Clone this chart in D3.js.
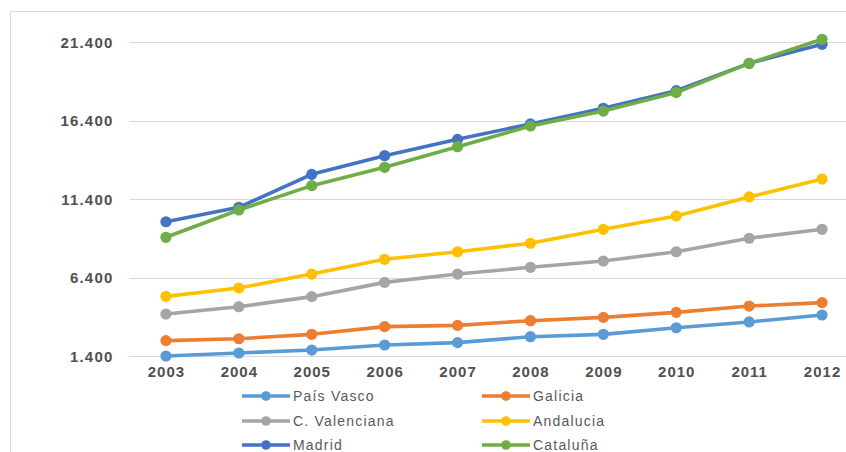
<!DOCTYPE html>
<html>
<head>
<meta charset="utf-8">
<script src="https://cdn.jsdelivr.net/npm/d3@7"></script>
<style>
  html, body { margin: 0; padding: 0; background: #fff; }
  svg { display: block; }
</style>
</head>
<body>
<svg id="chart" width="846" height="452"></svg>
<script>
const years = ["2003","2004","2005","2006","2007","2008","2009","2010","2011","2012"];
const yTicks = [1400, 6400, 11400, 16400, 21400];
const seriesNames = ["País Vasco","Galicia","C. Valenciana","Andalucia","Madrid","Cataluña"];
const seriesColors = ["#5B9BD5","#ED7D31","#A5A5A5","#FFC000","#4472C4","#70AD47"];
const paisVasco    = [1400, 1590, 1780, 2100, 2250, 2630, 2780, 3200, 3570, 4010];
const galicia      = [2380, 2500, 2780, 3270, 3350, 3650, 3860, 4180, 4580, 4800];
const cValenciana  = [4070, 4540, 5180, 6090, 6620, 7050, 7450, 8040, 8900, 9470];
const andalucia    = [5200, 5730, 6620, 7560, 8040, 8580, 9470, 10320, 11530, 12670];
const madrid       = [9950, 10870, 12970, 14160, 15200, 16180, 17180, 18300, 20040, 21250];
const cataluna     = [8960, 10700, 12250, 13420, 14730, 16050, 17000, 18180, 20040, 21570];
const seriesValues = [paisVasco, galicia, cValenciana, andalucia, madrid, cataluna];

const svg = d3.select("#chart");
const fontFam = "'Liberation Sans', Arial, sans-serif";
const textColor = "#595959";

// chart border (cropped)
svg.append("path")
  .attr("d", "M10.5,452 L10.5,11.5 L846,11.5")
  .attr("fill", "none").attr("stroke", "#d9d9d9").attr("stroke-width", 1);

const x = d3.scaleBand().domain(years).range([129.5, 858.5]);
const y = d3.scaleLinear().domain([1400, 21400]).range([356, 42]);

// gridlines
svg.append("g").selectAll("line").data(yTicks).join("line")
  .attr("x1", 129.5).attr("x2", 858.5)
  .attr("y1", d => Math.round(y(d)) + 0.5).attr("y2", d => Math.round(y(d)) + 0.5)
  .attr("stroke", "#d9d9d9").attr("stroke-width", 1);

// y axis labels
const yAxis = d3.axisLeft(y).tickValues(yTicks).tickSize(0).tickPadding(0)
  .tickFormat(d => d3.format(",")(d).replace(/,/g, "."));
const gy = svg.append("g").attr("transform", "translate(113.5,0)").call(yAxis);
gy.select(".domain").remove();
gy.selectAll("text")
  .attr("fill", "#505050").attr("font-family", fontFam).attr("font-size", 15)
  .attr("font-weight", "bold").style("letter-spacing", "1.2px").attr("dy", "0.36em");

// x axis labels
const xAxis = d3.axisBottom(x).tickSize(0).tickPadding(0);
const gx = svg.append("g").attr("transform", "translate(0,372)").call(xAxis);
gx.select(".domain").remove();
gx.selectAll("text")
  .attr("fill", "#505050").attr("font-family", fontFam).attr("font-size", 15)
  .attr("font-weight", "bold").style("letter-spacing", "1px").attr("dy", "0.36em")
  .attr("dx", "0.5");

const cx = d => x(d) + x.bandwidth() / 2;

const line = d3.line().x((d, i) => cx(years[i])).y(d => y(d));

seriesValues.forEach((vals, si) => {
  const g = svg.append("g");
  g.append("path").datum(vals)
    .attr("d", line).attr("fill", "none")
    .attr("stroke", seriesColors[si]).attr("stroke-width", 3.6)
    .attr("stroke-linejoin", "round").attr("stroke-linecap", "round");
  g.selectAll("circle").data(vals).join("circle")
    .attr("cx", (d, i) => cx(years[i])).attr("cy", d => y(d))
    .attr("r", 5.6).attr("fill", seriesColors[si]);
});

// legend
const legendCols = [242, 482];
const legendRows = [396, 421, 445];
seriesNames.forEach((name, i) => {
  const lx = legendCols[i % 2];
  const ly = legendRows[Math.floor(i / 2)];
  const g = svg.append("g").attr("transform", `translate(${lx},${ly})`);
  g.append("line").attr("x1", 0).attr("x2", 48).attr("y1", 0).attr("y2", 0)
    .attr("stroke", seriesColors[i]).attr("stroke-width", 3.4);
  g.append("circle").attr("cx", 24).attr("cy", 0).attr("r", 4.8).attr("fill", seriesColors[i]);
  g.append("text").attr("x", 51).attr("y", 0).attr("dy", "0.36em")
    .attr("fill", textColor).attr("font-family", fontFam).attr("font-size", 14)
    .style("letter-spacing", "1.2px").text(name);
});
</script>
</body>
</html>
